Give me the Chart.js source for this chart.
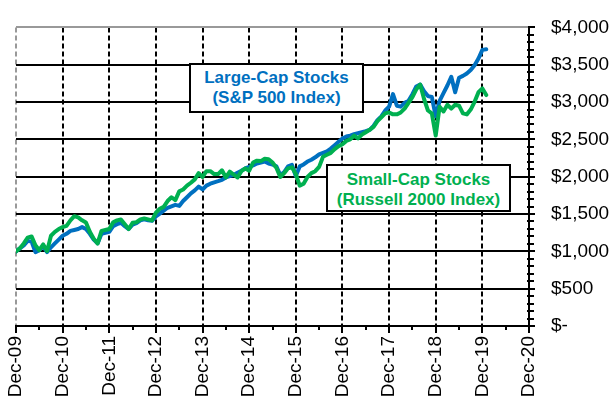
<!DOCTYPE html>
<html>
<head>
<meta charset="utf-8">
<script src="https://cdn.jsdelivr.net/npm/chart.js@4"></script>
<style>
  body { margin: 0; background: #fff; }
  #wrap { position: relative; width: 616px; height: 404px; }
  .note {
    position: absolute; box-sizing: border-box; background: #fff;
    border: 2px solid #000; font: bold 17px "Liberation Sans", Arial, sans-serif;
    text-align: center; line-height: 20px; padding-top: 3px;
  }
  #large { left: 189px; top: 63px; width: 175px; height: 50px; color: #0070C0; }
  #small { left: 326px; top: 164px; width: 185px; height: 48px; color: #00B050; padding-top: 4px; }
</style>
</head>
<body>
<div id="wrap">
  <canvas id="growthChart" width="616" height="404"></canvas>
  <div class="note" id="large">Large-Cap Stocks<br>(S&amp;P 500 Index)</div>
  <div class="note" id="small">Small-Cap Stocks<br>(Russell 2000 Index)</div>
</div>
<script>
// month index 0 = Dec-09, one point per month
const largeCap = [
  1000, 1041, 1080, 1140, 1130, 990, 1016, 1067, 990, 1054,
  1106, 1157, 1209, 1235, 1274, 1286, 1299, 1325, 1299, 1235,
  1157, 1106, 1235, 1248, 1261, 1338, 1364, 1383, 1338, 1299,
  1357, 1377, 1415, 1428, 1415, 1409, 1467, 1506, 1545, 1584,
  1603, 1622, 1609, 1674, 1725, 1777, 1816, 1867, 1829, 1880,
  1906, 1925, 1940, 1957, 1990, 2009, 2022, 2054, 2080, 2112,
  2132, 2151, 2177, 2190, 2203, 2177, 2164, 2138, 2022, 2061,
  2138, 2158, 2009, 2138, 2164, 2203, 2228, 2260, 2300, 2320,
  2340, 2377, 2422, 2467, 2512, 2538, 2551, 2570, 2583, 2596,
  2609, 2628, 2680, 2758, 2809, 2887, 2938, 3106, 2951, 2938,
  2990, 3016, 3106, 3209, 3235, 3145, 3080, 3067, 2809, 3016,
  3119, 3222, 3338, 3132, 3325, 3351, 3383, 3428, 3493, 3583,
  3699, 3706
];
const smallCap = [
  1000, 1041, 1106, 1183, 1200, 1080, 1016, 1093, 1003, 1209,
  1261, 1299, 1325, 1342, 1415, 1471, 1454, 1415, 1386, 1261,
  1170, 1106, 1274, 1286, 1299, 1390, 1415, 1428, 1364, 1299,
  1383, 1390, 1428, 1441, 1428, 1415, 1519, 1570, 1596, 1674,
  1725, 1686, 1803, 1829, 1880, 1919, 1964, 2048, 1996, 2074,
  2074, 2035, 2035, 2086, 1990, 2067, 2028, 1990, 2074, 2112,
  2080, 2190, 2215, 2209, 2241, 2235, 2190, 2119, 1996, 2048,
  2112, 2125, 2035, 1880, 1906, 1996, 2048, 2074, 2132, 2267,
  2293, 2319, 2370, 2409, 2435, 2480, 2499, 2551, 2513, 2564,
  2596, 2628, 2667, 2745, 2796, 2848, 2861, 2835, 2835, 2861,
  2912, 2990, 3067, 3170, 3235, 3041, 2887, 2848, 2551, 2938,
  2874, 2964, 2912, 2964, 2951, 2848, 2835, 2899, 3003, 3132,
  3183, 3093
];
const yearLabels = ['Dec-09', 'Dec-10', 'Dec-11', 'Dec-12', 'Dec-13', 'Dec-14',
                    'Dec-15', 'Dec-16', 'Dec-17', 'Dec-18', 'Dec-19', 'Dec-20'];

const toPoints = arr => arr.map((v, i) => ({ x: i, y: v }));

// small half-year and $100 tick marks
const minorTicks = {
    id: 'minorTicks',
    afterDraw(chart) {
        const { ctx, scales: { x, y }, chartArea } = chart;
        ctx.save();
        ctx.strokeStyle = '#000';
        ctx.lineWidth = 2;
        ctx.beginPath();
        for (let m = 6; m < 132; m += 12) {
            const px = Math.round(x.getPixelForValue(m));
            ctx.moveTo(px, chartArea.bottom);
            ctx.lineTo(px, chartArea.bottom + 4);
        }
        for (let v = 100; v < 4000; v += 100) {
            if (v % 500 === 0) continue;
            const py = Math.round(y.getPixelForValue(v));
            ctx.moveTo(chartArea.right - 2, py);
            ctx.lineTo(chartArea.right + 5, py);
        }
        ctx.stroke();
        ctx.restore();
    }
};

const font = { family: '"Liberation Sans", Arial, sans-serif', size: 19 };

new Chart(document.getElementById('growthChart'), {
    type: 'line',
    data: {
        datasets: [
            { label: 'Small-Cap Stocks', data: toPoints(smallCap), borderColor: '#00B050', borderWidth: 4 },
            { label: 'Large-Cap Stocks', data: toPoints(largeCap), borderColor: '#0070C0', borderWidth: 4 }
        ]
    },
    options: {
        responsive: false,
        animation: false,
        elements: { point: { radius: 0 }, line: { tension: 0, borderCapStyle: 'round', borderJoinStyle: 'round' } },
        layout: { padding: { top: 15, left: 16, right: 0, bottom: 0 } },
        plugins: { legend: { display: false }, tooltip: { enabled: false } },
        scales: {
            x: {
                type: 'linear',
                min: 0,
                max: 132,
                ticks: {
                    stepSize: 12,
                    maxRotation: 90,
                    minRotation: 90,
                    padding: 3,
                    color: '#000',
                    font: font,
                    callback: (v) => yearLabels[v / 12]
                },
                grid: {
                    color: (c) => c.tick.value === 0 ? '#999' : (c.tick.value === 132 ? 'rgba(0,0,0,0)' : '#000'),
                    lineWidth: 2,
                    tickColor: '#000',
                    tickLength: 7,
                    tickBorderDash: []
                },
                border: { color: '#000', width: 2, dash: [5, 3] },
                afterFit: (s) => { s.height = 78; }
            },
            y: {
                position: 'right',
                min: 0,
                max: 4000,
                ticks: {
                    stepSize: 500,
                    padding: 16,
                    color: '#000',
                    font: font,
                    callback: (v) => v === 0 ? '$-' : '$' + v.toLocaleString('en-US')
                },
                grid: {
                    color: (c) => c.tick.value === 4000 ? '#999' : '#000',
                    lineWidth: 2,
                    tickColor: '#000',
                    tickLength: 6
                },
                border: { color: '#000', width: 2 },
                afterFit: (s) => { s.width = 87; }
            }
        }
    },
    plugins: [minorTicks]
});
</script>
</body>
</html>
